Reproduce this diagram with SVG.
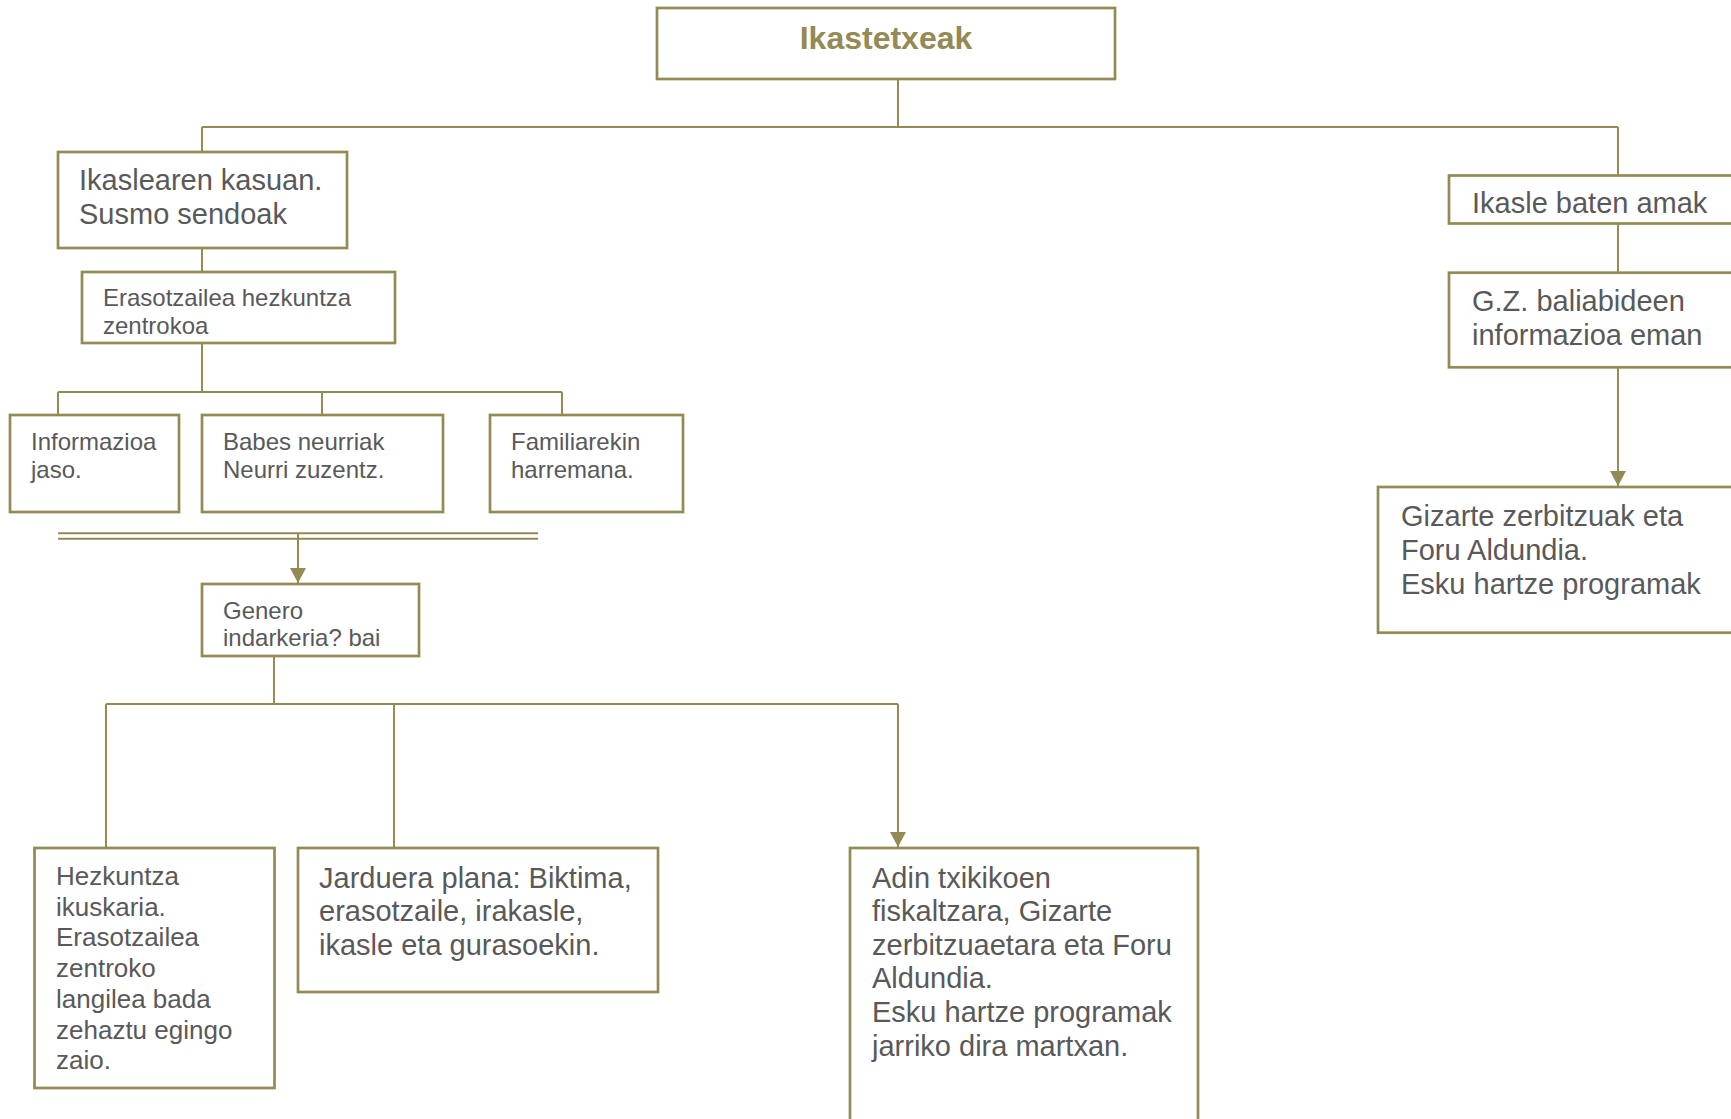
<svg xmlns="http://www.w3.org/2000/svg" width="1731" height="1119" viewBox="0 0 1731 1119">
<style>
.box{fill:#fff;stroke:#948A54;stroke-width:2.7}
.ln{fill:none;stroke:#948A54;stroke-width:2}
.t{font-family:"Liberation Sans",Arial,sans-serif;fill:#595959}
.s24{font-size:24px}
.s26{font-size:26px}
.s29{font-size:29px}
.title{font-family:"Liberation Sans",Arial,sans-serif;font-size:32px;font-weight:bold;fill:#948A54}
</style>
<defs>
<marker id="arr" markerUnits="userSpaceOnUse" markerWidth="16" markerHeight="16" viewBox="0 0 16 16" refX="15" refY="8" orient="auto">
<path d="M0,0 L15,8 L0,16 Z" fill="#948A54"/>
</marker>
</defs>
<rect width="1731" height="1119" fill="#fff"/>
<g id="connectors">
<path class="ln" d="M898,79 V127 M202,127 H1618 M202,127 V152 M1618,127 V176"/>
<path class="ln" d="M202,248 V272"/>
<path class="ln" d="M1618,224 V272"/>
<path class="ln" d="M1618,367 V486" marker-end="url(#arr)"/>
<path class="ln" d="M202,343 V392 M58,392 H562 M58,392 V415 M322,392 V415 M562,392 V415"/>
<path class="ln" d="M58,533.3 H538 M58,538.7 H538"/>
<path class="ln" d="M298,533 V583" marker-end="url(#arr)"/>
<path class="ln" d="M274,656 V704 M106,704 H898 M106,704 V848 M394,704 V848"/>
<path class="ln" d="M898,704 V847" marker-end="url(#arr)"/>
</g>
<g id="n-ikastetxeak">
<rect class="box" x="657" y="8" width="458" height="71"/>
<text class="title" x="886" y="49" text-anchor="middle">Ikastetxeak</text>
</g>
<g id="n-ikaslearen">
<rect class="box" x="58" y="152" width="289" height="96"/>
<text class="t s29" x="79" y="190">Ikaslearen kasuan.</text>
<text class="t s29" x="79" y="224">Susmo sendoak</text>
</g>
<g id="n-erasotzailea">
<rect class="box" x="82" y="272" width="313" height="71"/>
<text class="t s24" x="103" y="306">Erasotzailea hezkuntza</text>
<text class="t s24" x="103" y="333.5">zentrokoa</text>
</g>
<g id="n-informazioa">
<rect class="box" x="10" y="415" width="169" height="97"/>
<text class="t s24" x="31" y="450">Informazioa</text>
<text class="t s24" x="31" y="477.5">jaso.</text>
</g>
<g id="n-babes">
<rect class="box" x="202" y="415" width="241" height="97"/>
<text class="t s24" x="223" y="450">Babes neurriak</text>
<text class="t s24" x="223" y="477.5">Neurri zuzentz.</text>
</g>
<g id="n-familiarekin">
<rect class="box" x="490" y="415" width="193" height="97"/>
<text class="t s24" x="511" y="450">Familiarekin</text>
<text class="t s24" x="511" y="477.5">harremana.</text>
</g>
<g id="n-genero">
<rect class="box" x="202" y="584" width="217" height="72"/>
<text class="t s24" x="223" y="618.5">Genero</text>
<text class="t s24" x="223" y="646">indarkeria? bai</text>
</g>
<g id="n-hezkuntza">
<rect class="box" x="34.5" y="848" width="240" height="240"/>
<text class="t s26" x="56" y="885">Hezkuntza</text>
<text class="t s26" x="56" y="915.7">ikuskaria.</text>
<text class="t s26" x="56" y="946.4">Erasotzailea</text>
<text class="t s26" x="56" y="977.1">zentroko</text>
<text class="t s26" x="56" y="1007.8">langilea bada</text>
<text class="t s26" x="56" y="1038.5">zehaztu egingo</text>
<text class="t s26" x="56" y="1069.2">zaio.</text>
</g>
<g id="n-jarduera">
<rect class="box" x="298" y="848" width="360" height="144"/>
<text class="t s29" x="319" y="887.5">Jarduera plana: Biktima,</text>
<text class="t s29" x="319" y="921">erasotzaile, irakasle,</text>
<text class="t s29" x="319" y="954.5">ikasle eta gurasoekin.</text>
</g>
<g id="n-adin">
<rect class="box" x="850" y="848" width="348" height="300"/>
<text class="t s29" x="872" y="887.5">Adin txikikoen</text>
<text class="t s29" x="872" y="921.1">fiskaltzara, Gizarte</text>
<text class="t s29" x="872" y="954.7">zerbitzuaetara eta Foru</text>
<text class="t s29" x="872" y="988.3">Aldundia.</text>
<text class="t s29" x="872" y="1021.9">Esku hartze programak</text>
<text class="t s29" x="872" y="1055.5">jarriko dira martxan.</text>
</g>
<g id="n-ikasle-baten">
<rect class="box" x="1449" y="175.5" width="320" height="48"/>
<text class="t s29" x="1472" y="212.7">Ikasle baten amak</text>
</g>
<g id="n-gz">
<rect class="box" x="1449" y="272.7" width="320" height="94.6"/>
<text class="t s29" x="1472" y="311">G.Z. baliabideen</text>
<text class="t s29" x="1472" y="344.5">informazioa eman</text>
</g>
<g id="n-gizarte">
<rect class="box" x="1378" y="487" width="390" height="145.7"/>
<text class="t s29" x="1401" y="526">Gizarte zerbitzuak eta</text>
<text class="t s29" x="1401" y="560">Foru Aldundia.</text>
<text class="t s29" x="1401" y="594">Esku hartze programak</text>
</g>
</svg>
